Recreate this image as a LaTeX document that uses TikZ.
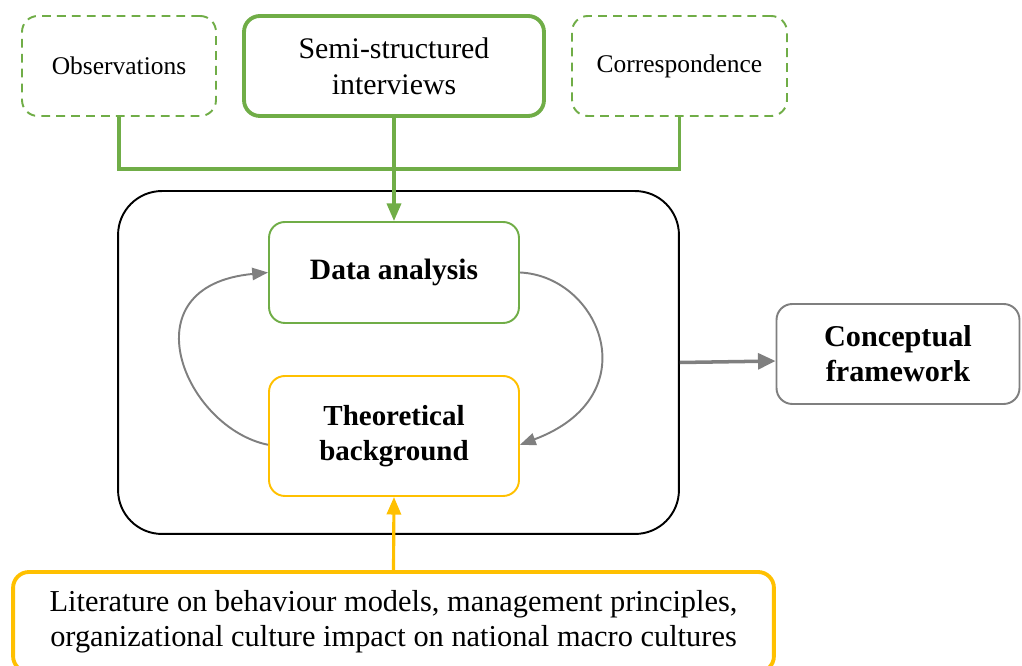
\documentclass[tikz,border=0pt]{standalone}
\usepackage{fontspec}
\setmainfont{Liberation Serif}
\usetikzlibrary{arrows.meta}
\definecolor{leaf}{HTML}{70AD47}
\definecolor{gold}{HTML}{FFC000}
\definecolor{slate}{HTML}{7F7F7F}

\begin{document}
\begin{tikzpicture}
  [x=0.02cm,y=0.02cm,
   box/.style={rectangle,rounded corners=9pt,align=center,inner sep=2pt,
     font=\fontsize{16.5}{20.5}\selectfont},
   source/.style={box,draw=leaf,line width=1.1pt,dash pattern=on 5pt off 3.5pt,
     minimum height=2cm,font=\fontsize{14.5}{18}\selectfont},
   feed/.style={draw=leaf,line width=1.8pt},
   loop/.style={draw=slate,line width=1.1pt,-{Triangle[length=9pt,width=7pt]}}]

  \clip (0,0) rectangle (1022,666);
  \useasboundingbox (0,0) rectangle (1022,666);

  \node[source,minimum width=3.88cm] (obs) at (119,600) {Observations};
  \node[box,draw=leaf,line width=2.2pt,minimum width=6.0cm,minimum height=2cm,font=\fontsize{17}{20.5}\selectfont] (semi) at (394,600) {Semi-structured\\interviews};
  \node[source,minimum width=4.3cm] (corr) at (679.5,600) {Correspondence\strut};

  \node[box,draw=black,line width=1.1pt,rounded corners=25pt,minimum width=11.22cm,minimum height=6.86cm] (frame) at (398.5,303.5) {};

  \node[box,draw=leaf,line width=1.1pt,minimum width=5cm,minimum height=2.02cm,font=\fontsize{16.8}{20.5}\selectfont\bfseries] (data) at (394,393.5) {Data analysis\strut};
  \node[box,draw=gold,line width=1.1pt,minimum width=5cm,minimum height=2.4cm,font=\fontsize{16.5}{20}\selectfont\bfseries] (theo) at (394,230) {Theoretical\\background};

  \node[box,draw=slate,line width=1.1pt,minimum width=4.86cm,minimum height=2cm,font=\fontsize{17.2}{20}\selectfont\bfseries] (concept) at (898,312) {Conceptual\\framework};

  \node[box,draw=gold,line width=2.2pt,minimum width=15.22cm,minimum height=2cm,font=\fontsize{17.3}{20}\selectfont] (lit) at (393.5,44) {Literature on behaviour models, management principles,\\organizational culture impact on national macro cultures};

  \draw[feed] (obs.south) -- ++(0,-52) -| (corr.south);
  \draw[feed,-{Triangle[length=10pt,width=8pt]}] (semi.south) -- (data.north);
  \draw[draw=gold,line width=1.8pt,-{Triangle[length=10pt,width=8pt]}] (lit.north) -- (theo.south);

  \draw[loop] ([yshift=-5]theo.west) .. controls (185,238) and (125,380) .. (data.west);
  \draw[loop] (data.east) .. controls (600,390) and (650,270) .. ([yshift=-5]theo.east);

  \draw[draw=slate,line width=2pt,-{Triangle[length=10pt,width=9pt]}] (frame.east) -- ([yshift=-4]concept.west);

\end{tikzpicture}
\end{document}
